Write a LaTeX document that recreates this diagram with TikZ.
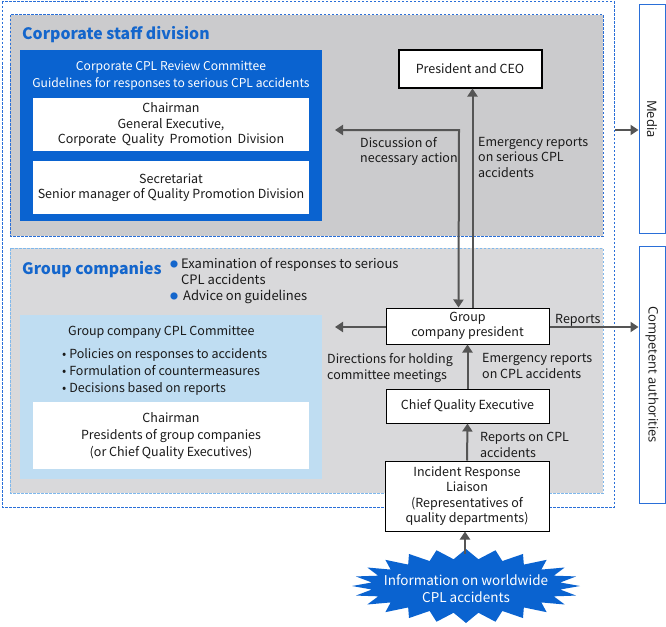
\documentclass[tikz,border=0pt]{standalone}
\usepackage{fontspec}
\setmainfont{Noto Sans CJK JP}
\newfontfamily\sidefont{Open Sans}
\usetikzlibrary{arrows.meta}
\definecolor{dblue}{HTML}{2A6FD8}
\definecolor{lblue}{HTML}{7FB8EC}
\definecolor{boxblue}{HTML}{0A63D0}
\definecolor{titleblue}{HTML}{1466CC}
\definecolor{paleblue}{HTML}{BFDDF2}
\definecolor{gray1}{HTML}{CBCBCD}
\definecolor{gray2}{HTML}{D9D9DB}
\definecolor{arr}{HTML}{555555}
\definecolor{txt}{HTML}{1A1A1A}
\newcommand{\bdot}{\textcolor{titleblue}{\raisebox{1.5pt}{\fontsize{8}{8}\selectfont ●}}}
\tikzset{
  txt/.style={font=\fontsize{12.5}{15.5}\selectfont, text=txt, inner sep=0pt, align=center},
  lbl/.style={font=\fontsize{12.5}{15.5}\selectfont, text=txt, inner sep=0pt, align=left, anchor=north west},
  whitebox/.style={fill=white, draw=none, inner sep=0pt},
  blackbox/.style={draw=black, fill=white, line width=1pt, inner sep=0pt, align=center,
     font=\fontsize{12.5}{15.5}\selectfont, text=txt},
  sidebox/.style={draw=dblue, fill=white, line width=1pt, inner sep=0pt},
  conn/.style={draw=arr, line width=2pt, -{Triangle[width=10pt,length=8pt]}},
  conn2/.style={draw=arr, line width=2pt, {Triangle[width=10pt,length=8pt]}-{Triangle[width=10pt,length=8pt]}},
  dashbox/.style={line width=1pt, dash pattern=on 2.5pt off 1.5pt},
  title/.style={font=\fontsize{15.8}{19}\selectfont\bfseries, text=titleblue, inner sep=0pt, anchor=west},
}
\begin{document}
\begin{tikzpicture}[x=1pt,y=-1pt]
\useasboundingbox (0,0) rectangle (666,626);
% outer dashed
\draw[dashbox, draw=dblue] (2,2) rectangle (614,507);
% gray regions
\draw[dashbox, draw=dblue, fill=gray1] (10,15) rectangle (603,236);
\draw[dashbox, draw=lblue, fill=gray2] (10,248) rectangle (603,493);
\node[title] (corptitle) at (22,35) {Corporate staff division};
\node[title] (grouptitle) at (22,270) {Group companies};
% corporate CPL review committee
\fill[boxblue] (20,50) rectangle (322,221);
\node[txt, text=white, font=\fontsize{12.1}{17}\selectfont] (crc) at (171,75.5) {Corporate CPL Review Committee\\Guidelines for responses to serious CPL accidents};
\node[whitebox, minimum width=276pt, minimum height=53pt] (chair1) at (171,124.5) {};
\node[txt] at (chair1) {Chairman\\General Executive,\\Corporate~ Quality~ Promotion~ Division};
\node[whitebox, minimum width=276pt, minimum height=53pt] (secr) at (171,187.5) {};
\node[txt] at ([yshift=0pt]secr) {Secretariat\\Senior manager of Quality Promotion Division};
% president
\node[blackbox, line width=2pt, minimum width=143pt, minimum height=37pt] (ceo) at (470,69) {President and CEO};
% group companies bullets
\node[lbl, font=\fontsize{13}{15.5}\selectfont] (b1) at (170,258) {\bdot\hspace{3pt}Examination of responses to serious\\\hspace{11pt}CPL accidents};
\node[lbl, font=\fontsize{13}{15.5}\selectfont] (b2) at (170,290) {\bdot\hspace{5pt}Advice on guidelines};
% group company CPL committee
\fill[paleblue] (20,315) rectangle (322,479);
\node[lbl] (gcc) at (68,325.5) {Group company CPL Committee};
\node[lbl, font=\fontsize{12.5}{17}\selectfont] (gccl) at (62,348) {• Policies on responses to accidents\\• Formulation of countermeasures\\• Decisions based on reports};
\node[whitebox, minimum width=276pt, minimum height=67pt] (chair2) at (171,435.5) {};
\node[txt, font=\fontsize{12.5}{17}\selectfont] at (chair2) {Chairman\\Presidents of group companies\\(or Chief Quality Executives)};
% group company president etc.
\node[blackbox, minimum width=163pt, minimum height=36pt] (gpres) at (467.5,326) {Group\\company president};
\node[blackbox, minimum width=163pt, minimum height=34pt] (cqe) at (467.5,406) {Chief Quality Executive};
\node[blackbox, minimum width=164pt, minimum height=70pt] (irl) at (467,496) {Incident Response\\Liaison\\(Representatives of\\quality departments)};
% side boxes
\node[sidebox, minimum width=26pt, minimum height=228pt] (media) at (652,119) {};
\node[rotate=-90, font=\sidefont\fontsize{13}{15}\selectfont, text=txt, inner sep=0pt] at (media) {Media};
\node[sidebox, minimum width=26pt, minimum height=257pt] (comp) at (652,374.5) {};
\node[rotate=-90, font=\sidefont\fontsize{13}{15}\selectfont, text=txt, inner sep=0pt] at (comp) {Competent authorities};
% starburst
\fill[boxblue] plot[samples at={0,...,47}, variable=\k]
  ({466+ifthenelse(mod(\k,2)==0,114,95)*cos(\k*7.5)},
   {586+ifthenelse(mod(\k,2)==0,37,27)*sin(\k*7.5)}) -- cycle;
\node[draw=none, minimum width=228pt, minimum height=70pt, inner sep=0pt,
      text=white, align=center, font=\fontsize{13.5}{17}\selectfont] (burst) at (466,589)
      {Information on worldwide\\CPL accidents};
% coordinates
\coordinate (discl) at (335,130);
\coordinate (mstart) at (615,130);
\coordinate (gleft) at (335,327);
% connectors
\draw[conn] ([xshift=5pt]gpres.north) -- ([xshift=5pt]gpres.north |- ceo.south);
\draw[conn2] (discl) -- (459,130) -- ([xshift=-9pt]gpres.north);
\draw[conn] (mstart) -- (media.west |- mstart);
\draw[conn] (gpres.west |- gleft) -- (gleft);
\draw[conn] (gpres.east |- gleft) -- (comp.west |- gleft);
\draw[conn] (cqe.north) -- (gpres.south);
\draw[conn] (irl.north) -- (cqe.south);
\draw[conn] ([xshift=-1pt]burst.north) -- ([xshift=-1pt]burst.north |- irl.south);
% labels
\node[lbl] (l1) at (360,137) {Discussion of\\necessary action};
\node[lbl] (l2) at (478,137) {Emergency reports\\on serious CPL\\accidents};
\node[lbl] (l3) at (555,314) {Reports};
\node[lbl] (l4) at (327,353.5) {Directions for holding\\committee meetings};
\node[lbl] (l5) at (482,353.5) {Emergency reports\\on CPL accidents};
\node[lbl] (l6) at (480,432) {Reports on CPL\\accidents};
\end{tikzpicture}
\end{document}
